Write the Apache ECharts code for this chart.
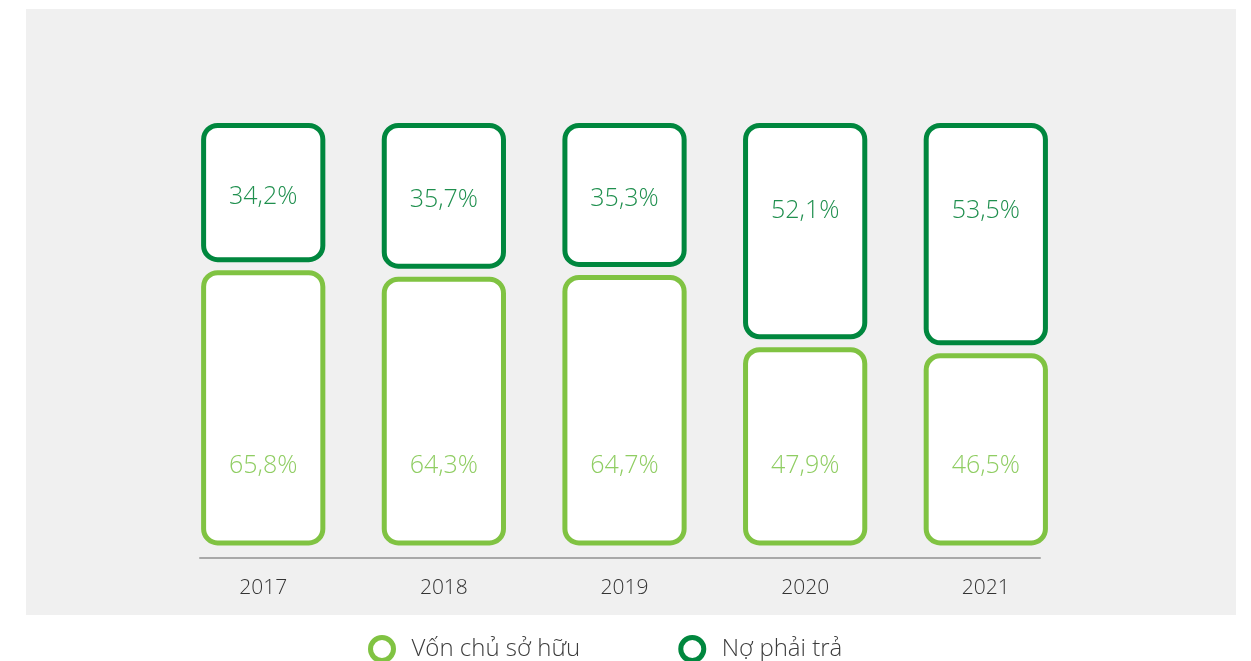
<!DOCTYPE html>
<html lang="vi">
<head>
    <meta charset="UTF-8">
    <title>Cơ cấu nguồn vốn</title>
    <script src="https://cdn.jsdelivr.net/npm/echarts@6/dist/echarts.min.js"></script>
    <style>
        html, body { margin: 0; padding: 0; background: #fff; }
        #main { width: 1251px; height: 661px; }
    </style>
</head>
<body>
<div id="main"></div>
<script type="text/javascript">
    var years = ['2017', '2018', '2019', '2020', '2021'];
    var vonChuSoHuu = [65.8, 64.3, 64.7, 47.9, 46.5];
    var noPhaiTra = [34.2, 35.7, 35.3, 52.1, 53.5];

    var LIGHT = '#80c342';
    var DARK = '#00873e';
    var FONT = '"Open Sans", "Noto Sans", sans-serif';

    function fmt(v) {
        return v.toFixed(1).replace('.', ',') + '%';
    }

    // mỗi đoạn là một ô bo góc riêng, có khe hở giữa hai đoạn
    function makeRender(color, textColor, isTop) {
        return function (params, api) {
            var x = api.value(0);
            var a = api.value(1);
            var b = api.value(2);
            var p0 = api.coord([x, a]);
            var p1 = api.coord([x, b]);
            var w = api.size([1, 0])[0] * 0.66;
            var top = p1[1] + 6.5;
            var bottom = p0[1] - 6.5;
            var h = bottom - top;
            var ty = isTop ? top + Math.min(h / 2 + 4, 85) : bottom - 77.5;
            return {
                type: 'group',
                children: [{
                    type: 'rect',
                    shape: {x: p0[0] - w / 2, y: top, width: w, height: h, r: 14},
                    style: {fill: '#fff', stroke: color, lineWidth: 5}
                }, {
                    type: 'text',
                    style: {
                        text: fmt(b - a),
                        x: p0[0],
                        y: ty,
                        align: 'center',
                        verticalAlign: 'middle',
                        fill: textColor,
                        font: '300 25px ' + FONT
                    }
                }]
            };
        };
    }

    var lowerData = [], upperData = [];
    for (var i = 0; i < years.length; i++) {
        lowerData.push([i, 0, vonChuSoHuu[i]]);
        upperData.push([i, vonChuSoHuu[i], vonChuSoHuu[i] + noPhaiTra[i]]);
    }

    var myChart = echarts.init(document.getElementById('main'));
    myChart.setOption({
        backgroundColor: '#fff',
        animation: false,
        graphic: [{
            type: 'rect',
            z: -10,
            shape: {x: 26, y: 9, width: 1210, height: 606},
            style: {fill: '#f0f0f0'}
        }],
        legend: {
            left: 363,
            top: 630,
            itemWidth: 23,
            itemHeight: 23,
            itemGap: 98,
            textStyle: {fontFamily: FONT, fontWeight: 300, fontSize: 24, color: '#3c3c3c', padding: [0, 0, 0, 13]},
            data: [
                {name: 'Vốn chủ sở hữu', icon: 'circle', itemStyle: {color: '#fff', borderColor: LIGHT, borderWidth: 5}},
                {name: 'Nợ phải trả', icon: 'circle', itemStyle: {color: '#fff', borderColor: DARK, borderWidth: 5}}
            ]
        },
        grid: {left: 200, right: 211, top: 119, bottom: 103},
        xAxis: {
            type: 'value',
            min: -0.35,
            max: 4.3,
            splitLine: {show: false},
            axisTick: {show: false},
            axisLine: {show: true, onZero: false, lineStyle: {color: '#a8a8a8', width: 2}},
            axisLabel: {
                customValues: [0, 1, 2, 3, 4],
                margin: 20,
                fontFamily: FONT,
                fontWeight: 300,
                fontSize: 21,
                color: '#333',
                formatter: function (v) { return years[Math.round(v)]; }
            }
        },
        yAxis: {
            type: 'value',
            min: -2,
            max: 100,
            show: false
        },
        series: [{
            name: 'Vốn chủ sở hữu',
            type: 'custom',
            renderItem: makeRender(LIGHT, '#8fcd62', false),
            data: lowerData
        }, {
            name: 'Nợ phải trả',
            type: 'custom',
            renderItem: makeRender(DARK, '#1f8f4e', true),
            data: upperData
        }]
    });
</script>
</body>
</html>
